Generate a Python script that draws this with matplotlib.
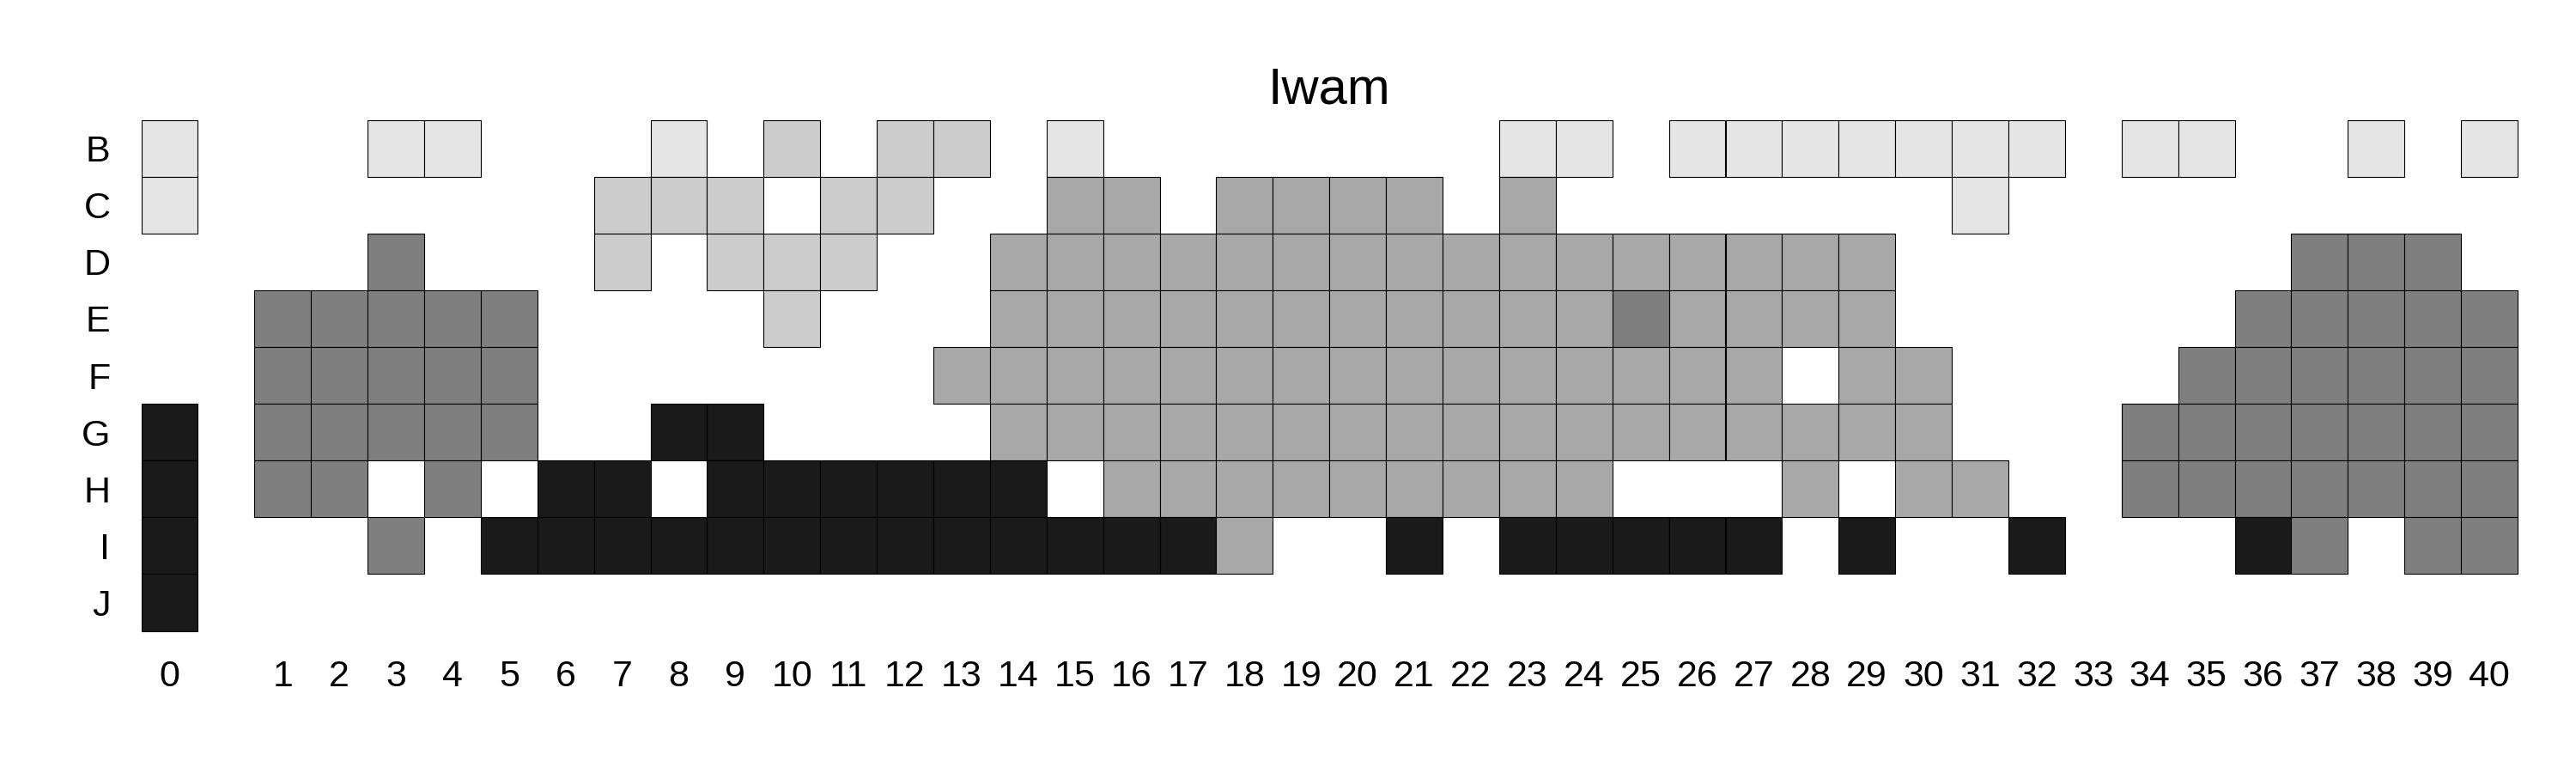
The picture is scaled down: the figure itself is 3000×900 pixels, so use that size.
import matplotlib
matplotlib.use('Agg')
import matplotlib.pyplot as plt

plt.rcParams['font.family'] = ['Liberation Sans', 'DejaVu Sans']

title = 'Iwam'
row_labels = ['B', 'C', 'D', 'E', 'F', 'G', 'H', 'I', 'J']
col_labels = [str(c) for c in range(41)]

# one string per row, one char per column 0..40: '.' = no term, 1..5 = shade
grid = [
    '1..11...1.2.22.1.......11.1111111.11..1.1',
    '1......222.22..33.3333.3.......1.........',
    '...4...2.222..3333333333333333.......444.',
    '.44444....2...3333333333343333......44444',
    '.44444.......333333333333333.33....444444',
    '544444..55....33333333333333333...4444444',
    '544.4.55.555555.333333333...3.33..4444444',
    '5..4.55555555555553..5.55555.5..5...54.44',
    '5........................................',
]
shades = {'1': '#e5e5e5', '2': '#cccccc', '3': '#a8a8a8', '4': '#7f7f7f', '5': '#1a1a1a'}
assert all(len(row) == 41 for row in grid)


def col_pos(c):
    # column 0 sits apart from the chart, one empty slot before column 1
    return 0 if c == 0 else c + 1


fig = plt.figure(figsize=(30, 9), dpi=100)
ax = fig.add_axes([164.5 / 3000, 1 - 734.6 / 900, (2932 - 164.5) / 3000, (734.6 - 139.6) / 900])

for r, row in enumerate(grid):
    for c, code in enumerate(row):
        if code in shades:
            ax.bar(col_pos(c), 1.0, bottom=r - 0.5, width=1.0, color=shades[code],
                   edgecolor='black', linewidth=0.8, align='center', clip_on=False)

ax.set_xlim(-0.5, 41.5)
ax.set_ylim(len(row_labels) - 0.5, -0.5)
ax.set_xticks([col_pos(c) for c in range(41)])
ax.set_xticklabels(col_labels, fontsize=31)
ax.set_yticks(range(len(row_labels)))
ax.set_yticklabels(row_labels, fontsize=31)
ax.tick_params(length=0)
ax.tick_params(axis='x', pad=24)
ax.tick_params(axis='y', pad=26)
for s in ax.spines.values():
    s.set_visible(False)
ax.set_title(title, fontsize=43, pad=14)

plt.savefig('out.png', dpi=100)
plt.close()
